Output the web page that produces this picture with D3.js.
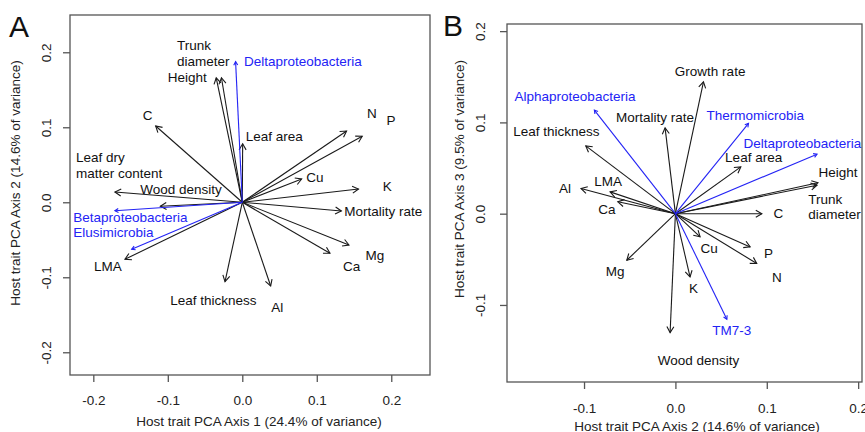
<!DOCTYPE html>
<html>
<head>
<meta charset="utf-8">
<script src="https://cdn.jsdelivr.net/npm/d3@7"></script>
<style>
  body { margin: 0; background: #fff; }
  svg text { font-family: "Liberation Sans", Arial, sans-serif; }
</style>
</head>
<body>
<script>
const width = 865;
const height = 432;

const ticks = [-0.2, -0.1, 0.0, 0.1, 0.2];

// panel A: host traits on PCA axis 1 / axis 2
const traitsA = ['Trunk\ndiameter', 'Height', 'C', 'Leaf area', 'N', 'P', 'Cu', 'K', 'Mortality rate',
  'Leaf dry\nmatter content', 'Wood density', 'LMA', 'Leaf thickness', 'Al', 'Ca', 'Mg'];
const traitsA1 = [-0.028, -0.035, -0.1163, 0.0005, 0.140, 0.161, 0.0797, 0.156, 0.133,
  -0.171, -0.110, -0.1575, -0.0232, 0.0381, 0.1177, 0.1432];
const traitsA2 = [0.166, 0.166, 0.1017, 0.078, 0.095, 0.088, 0.031, 0.0177, -0.0116,
  0.0137, -0.0053, -0.076, -0.1058, -0.1116, -0.068, -0.057];
// where each label sits (data units) and how it is anchored
const traitLabA1 = [-0.0877, -0.0478, -0.127, 0.0046, 0.174, 0.1996, 0.0976, 0.1946, 0.137,
  -0.2232, -0.0823, -0.1803, -0.0389, 0.047, 0.1468, 0.1781];
const traitLabA2 = [0.2088, 0.1661, 0.1155, 0.0884, 0.119, 0.1097, 0.0328, 0.0217, -0.0116,
  0.0595, 0.0177, -0.0859, -0.1303, -0.14, -0.0859, -0.0703];
const traitAnchorA = ['start', 'end', 'middle', 'start', 'middle', 'middle', 'middle', 'middle', 'start',
  'start', 'middle', 'middle', 'middle', 'middle', 'middle', 'middle'];

const taxaA = ['Deltaproteobacteria', 'Betaproteobacteria', 'Elusimicrobia'];
const taxaA1 = [-0.009, -0.171, -0.1485];
const taxaA2 = [0.1875, -0.0112, -0.0627];
const taxaLabA1 = [0.0023, -0.2268, -0.2268];
const taxaLabA2 = [0.1875, -0.02, -0.0405];
const taxaAnchorA = ['start', 'start', 'start'];

// panel B: host traits on PCA axis 2 / axis 3
const traitsB = ['Growth rate', 'Mortality rate', 'Leaf thickness', 'Leaf area', 'Height', 'Trunk\ndiameter',
  'Al', 'LMA', 'Ca', 'C', 'Cu', 'P', 'N', 'Mg', 'K', 'Wood density'];
const traitsB2 = [0.0307, -0.0113, -0.0981, 0.0716, 0.156, 0.155,
  -0.1033, -0.0715, -0.063, 0.0946, 0.027, 0.0818, 0.089, -0.0532, 0.016, -0.0058];
const traitsB3 = [0.1445, 0.094, 0.0743, 0.0513, 0.0338, 0.0312,
  0.0276, 0.0239, 0.013, 0.0, -0.0254, -0.0364, -0.0546, -0.051, -0.0693, -0.1303];
const traitLabB2 = [0.038, -0.0222, -0.1303, 0.0544, 0.1566, 0.1453,
  -0.1208, -0.0737, -0.0751, 0.1128, 0.0369, 0.1019, 0.111, -0.066, 0.0197, 0.0252];
const traitLabB3 = [0.1563, 0.1061, 0.0905, 0.0616, 0.0452, 0.0159,
  0.0276, 0.0356, 0.0049, 0.0, -0.0382, -0.0436, -0.0693, -0.063, -0.082, -0.1606];
const traitAnchorB = ['middle', 'middle', 'middle', 'start', 'start', 'start',
  'middle', 'middle', 'middle', 'middle', 'middle', 'middle', 'middle', 'middle', 'middle', 'middle'];

const taxaB = ['Alphaproteobacteria', 'Thermomicrobia', 'Deltaproteobacteria', 'TM7-3'];
const taxaB2 = [-0.0887, 0.080, 0.155, 0.0563];
const taxaB3 = [0.1135, 0.0989, 0.0652, -0.1157];
const taxaLabB2 = [-0.1099, 0.0873, 0.0745, 0.0618];
const taxaLabB3 = [0.1288, 0.108, 0.0776, -0.1277];
const taxaAnchorB = ['middle', 'middle', 'start', 'middle'];

const black = '#1a1a1a';
const blue = '#2323f5';
const axisGray = '#555';

let svg = d3.select('body').append('svg').attr('width', width).attr('height', height);

function rows(names, xs, ys, lx, ly, anchors, color, head) {
  return names.map((n, i) => ({
    name: n, x: xs[i], y: ys[i], lx: lx[i], ly: ly[i], anchor: anchors[i], color: color, head: head,
  }));
}

function inside(domain) {
  return ticks.filter((t) => t >= domain[0] && t <= domain[1]);
}

function drawPanel(cfg) {
  let x = d3.scaleLinear().domain(cfg.xDomain).range([cfg.left, cfg.right]);
  let y = d3.scaleLinear().domain(cfg.yDomain).range([cfg.bottom, cfg.top]);
  let g = svg.append('g');

  g.append('rect')
    .attr('x', cfg.left).attr('y', cfg.top)
    .attr('width', cfg.right - cfg.left).attr('height', cfg.bottom - cfg.top)
    .attr('fill', 'none').attr('stroke', axisGray).attr('stroke-width', 1.3);

  let xAxis = g.append('g')
    .attr('transform', `translate(0,${cfg.bottom})`)
    .call(d3.axisBottom(x).tickValues(inside(cfg.xDomain)).tickSize(7).tickFormat((d) => d.toFixed(1)));
  xAxis.select('.domain').remove();
  xAxis.selectAll('line').attr('stroke', axisGray).attr('stroke-width', 1.3);
  xAxis.selectAll('text')
    .attr('y', cfg.xTickOffset).attr('dy', '0.35em')
    .attr('font-size', '13.5px').attr('fill', '#222');

  let yAxis = g.append('g')
    .attr('transform', `translate(${cfg.left},0)`)
    .call(d3.axisLeft(y).tickValues(inside(cfg.yDomain)).tickSize(7).tickFormat((d) => d.toFixed(1)));
  yAxis.select('.domain').remove();
  yAxis.selectAll('line').attr('stroke', axisGray).attr('stroke-width', 1.3);
  yAxis.selectAll('text')
    .attr('x', null).attr('dy', '0.35em')
    .attr('text-anchor', 'middle')
    .attr('transform', `translate(${-cfg.yTickOffset},0) rotate(-90)`)
    .attr('font-size', '13.5px').attr('fill', '#222');

  g.append('text')
    .attr('x', cfg.xTitlePos[0]).attr('y', cfg.xTitlePos[1]).attr('dy', '0.35em')
    .attr('text-anchor', 'middle').attr('font-size', '13.5px').attr('fill', '#222')
    .text(cfg.xTitle);
  g.append('text')
    .attr('transform', `translate(${cfg.yTitlePos[0]},${cfg.yTitlePos[1]}) rotate(-90)`)
    .attr('dy', '0.35em')
    .attr('text-anchor', 'middle').attr('font-size', '13.5px').attr('fill', '#222')
    .text(cfg.yTitle);

  g.append('text')
    .attr('x', cfg.letterPos[0]).attr('y', cfg.letterPos[1])
    .attr('font-size', '30px').attr('fill', '#111')
    .text(cfg.letter);

  let x0 = x(0);
  let y0 = y(0);

  // arrows
  let arrows = g.selectAll('g.arrow').data(cfg.rows).enter().append('g').attr('class', 'arrow');
  arrows.append('line')
    .attr('x1', x0).attr('y1', y0)
    .attr('x2', (d) => x(d.x)).attr('y2', (d) => y(d.y))
    .attr('stroke', (d) => d.color).attr('stroke-width', 1.1);
  arrows.append('path')
    .attr('d', (d) => {
      let tx = x(d.x), ty = y(d.y);
      let a = Math.atan2(ty - y0, tx - x0);
      let s = Math.PI / 6;
      let p1 = [tx - d.head * Math.cos(a - s), ty - d.head * Math.sin(a - s)];
      let p2 = [tx - d.head * Math.cos(a + s), ty - d.head * Math.sin(a + s)];
      return `M${p1[0]},${p1[1]}L${tx},${ty}L${p2[0]},${p2[1]}`;
    })
    .attr('fill', 'none')
    .attr('stroke', (d) => d.color).attr('stroke-width', 1.1);

  // labels
  let labels = g.selectAll('text.lab').data(cfg.rows).enter().append('text')
    .attr('class', 'lab')
    .attr('x', (d) => x(d.lx)).attr('y', (d) => y(d.ly))
    .attr('text-anchor', (d) => d.anchor)
    .attr('font-size', '13.5px')
    .attr('fill', (d) => (d.color === blue ? blue : '#111'));
  labels.selectAll('tspan')
    .data((d) => d.name.split('\n').map((t) => ({ t: t, x: x(d.lx) })))
    .enter().append('tspan')
    .attr('x', (t) => t.x)
    .attr('dy', (t, i) => (i === 0 ? '0.35em' : cfg.lineGap + 'px'))
    .text((t) => t.t);
}

drawPanel({
  letter: 'A', letterPos: [9, 37],
  left: 70, right: 430, top: 15, bottom: 375,
  xDomain: [-0.2313, 0.252], yDomain: [-0.2303, 0.2497],
  xTickOffset: 25, yTickOffset: 23.5,
  xTitle: 'Host trait PCA Axis 1 (24.4% of variance)', xTitlePos: [259, 421.5],
  yTitle: 'Host trait PCA Axis 2 (14.6% of variance)', yTitlePos: [15, 183],
  lineGap: 16,
  rows: rows(traitsA, traitsA1, traitsA2, traitLabA1, traitLabA2, traitAnchorA, black, 7)
    .concat(rows(taxaA, taxaA1, taxaA2, taxaLabA1, taxaLabA2, taxaAnchorA, blue, 4)),
});

drawPanel({
  letter: 'B', letterPos: [443, 36],
  left: 507, right: 862, top: 24, bottom: 382,
  xDomain: [-0.1843, 0.2042], yDomain: [-0.1844, 0.2078],
  xTickOffset: 26, yTickOffset: 27,
  xTitle: 'Host trait PCA Axis 2 (14.6% of variance)', xTitlePos: [697, 426],
  yTitle: 'Host trait PCA Axis 3 (9.5% of variance)', yTitlePos: [459, 179],
  lineGap: 14.7,
  rows: rows(traitsB, traitsB2, traitsB3, traitLabB2, traitLabB3, traitAnchorB, black, 7)
    .concat(rows(taxaB, taxaB2, taxaB3, taxaLabB2, taxaLabB3, taxaAnchorB, blue, 4)),
});
</script>
</body>
</html>
